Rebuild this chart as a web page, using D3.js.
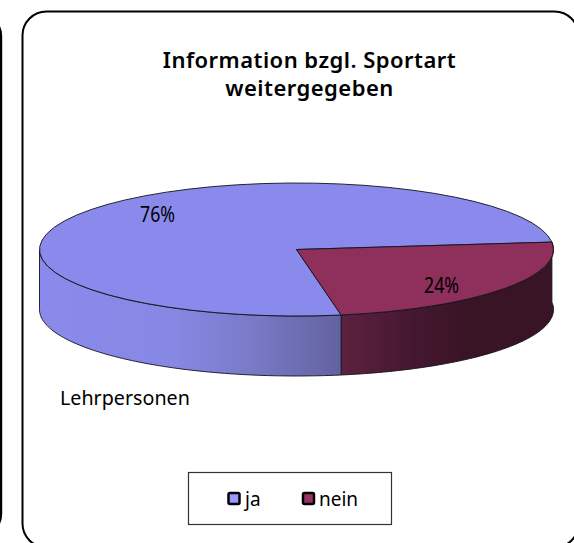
<!DOCTYPE html>
<html><head><meta charset="utf-8">
<script src="https://cdn.jsdelivr.net/npm/d3@7/dist/d3.min.js"></script>
<style>html,body{margin:0;padding:0;background:#fff;overflow:hidden}svg{display:block}text{font-family:"Noto Sans",sans-serif;fill:#000}</style>
</head><body><svg id="c" width="574" height="543"></svg>
<script>
const categories = ["ja", "nein"];
const values = [76, 24];
const labels = ["76%", "24%"];
const topColors = ["#8a8aec", "#8e2f5c"];
const legendColors = ["#9999ff", "#993366"];
const titleLines = ["Information bzgl. Sportart", "weitergegeben"];
const subLabel = "Lehrpersonen";

(function(){
const svg = d3.select("#c");
const cx = 296.5, cy = 249.5, rx = 257, ry = 66.5, depth = 60;
const toRad = Math.PI / 180;
const start = 170 * toRad;

// outer panels
svg.append("rect").attr("x",-560).attr("y",14).attr("width",561).attr("height",522).attr("rx",22)
  .attr("fill","#fff").attr("stroke","#000").attr("stroke-width",2.4);
svg.append("rect").attr("x",22.5).attr("y",11.5).attr("width",556).attr("height",536).attr("rx",24)
  .attr("fill","#fff").attr("stroke","#000").attr("stroke-width",2);

const defs = svg.append("defs");
const g1 = defs.append("linearGradient").attr("id","wallJa").attr("gradientUnits","userSpaceOnUse")
  .attr("x1",cx-rx).attr("x2",cx+44.5).attr("y1",0).attr("y2",0);
[[0,"#8a8aec"],[0.45,"#8787e4"],[0.7,"#7a7ac8"],[1,"#6262a0"]].forEach(s=>g1.append("stop").attr("offset",s[0]).attr("stop-color",s[1]));
const g2 = defs.append("linearGradient").attr("id","wallNein").attr("gradientUnits","userSpaceOnUse")
  .attr("x1",cx+44.5).attr("x2",cx+rx).attr("y1",0).attr("y2",0);
[[0,"#5c2140"],[0.35,"#44172f"],[0.6,"#391425"],[1,"#391425"]].forEach(s=>g2.append("stop").attr("offset",s[0]).attr("stop-color",s[1]));

const pie = d3.pie().sort(null).startAngle(start).endAngle(start + 2*Math.PI);
const arcs = pie(values);
const px = a => cx + rx*Math.sin(a);
const py = a => cy - ry*Math.cos(a);

// side walls
function wall(a0, a1, fill){
  const n = 80, s = d3.range(n+1).map(i => a0 + (a1-a0)*i/n);
  const pts = s.map(a=>[px(a),py(a)]).concat(s.slice().reverse().map(a=>[px(a),py(a)+depth]));
  svg.append("path").attr("d", d3.line()(pts)+"Z").attr("fill",fill)
    .attr("stroke","#12121c").attr("stroke-width",0.9).attr("stroke-linejoin","round");
}
wall(arcs[1].startAngle, arcs[1].endAngle, "url(#wallNein)");
wall(arcs[0].startAngle, 270*toRad, "url(#wallJa)");

// top face
const arc = d3.arc().innerRadius(0).outerRadius(rx);
const face = svg.append("g").attr("transform",`translate(${cx},${cy}) scale(1,${ry/rx})`);
face.selectAll("path").data(arcs).join("path")
  .attr("d",arc).attr("fill",(d,i)=>topColors[i])
  .attr("stroke","#12121c").attr("stroke-width",0.9).attr("vector-effect","non-scaling-stroke");

// title
svg.selectAll("text.t").data(titleLines).join("text").attr("class","t")
  .attr("x",309.5).attr("y",(d,i)=>68+i*28).attr("text-anchor","middle")
  .attr("font-size",22).attr("font-weight",600).attr("letter-spacing",0.47).text(d=>d);

// data labels
const labelPos = [[140,222],[424,293]];
svg.selectAll("text.l").data(labels).join("text").attr("class","l")
  .attr("x",(d,i)=>labelPos[i][0]).attr("y",(d,i)=>labelPos[i][1])
  .attr("font-size",21).attr("textLength",35).attr("lengthAdjust","spacingAndGlyphs").text(d=>d);

svg.append("text").attr("x",60).attr("y",405).attr("font-size",19.7).text(subLabel);

// legend
svg.append("rect").attr("x",188.5).attr("y",472.5).attr("width",203).attr("height",52)
  .attr("fill","#fff").attr("stroke","#333").attr("stroke-width",1.2);
const lx = [228.5, 303], tx = [245, 319];
categories.forEach((c,i)=>{
  svg.append("rect").attr("x",lx[i]).attr("y",493).attr("width",11).attr("height",11).attr("rx",1.5)
    .attr("fill",legendColors[i]).attr("stroke","#000").attr("stroke-width",2.5);
  svg.append("text").attr("x",tx[i]).attr("y",506).attr("font-size",19).text(c);
});
})();
</script></body></html>
